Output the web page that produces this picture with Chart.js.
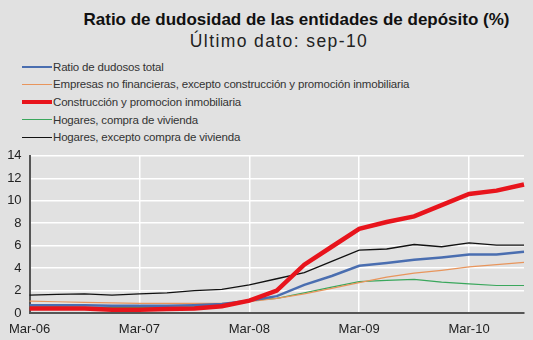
<!DOCTYPE html>
<html>
<head>
<meta charset="utf-8">
<script src="https://cdn.jsdelivr.net/npm/chart.js@4"></script>
<style>
  html, body { margin: 0; padding: 0; }
  body { width: 533px; height: 340px; background: #e1e1e1; position: relative; overflow: hidden;
         font-family: "Liberation Sans", Arial, sans-serif; color: #111; }
  #title { position: absolute; left: 0; width: 593px; top: 10px; text-align: center;
           font-size: 17px; font-weight: bold; }
  #subtitle { position: absolute; left: 0; width: 558px; top: 31px; text-align: center;
              font-size: 17.5px; letter-spacing: 1.4px; color: #222; }
  #legend { position: absolute; left: 22px; top: 58px; }
  .item { height: 17.6px; display: flex; align-items: center; font-size: 11.5px; letter-spacing: -0.17px; color: #333; }
  .swatch { width: 30px; margin-right: 1px; }
  #wrap { position: absolute; left: 0; top: 140px; width: 533px; height: 200px; }
</style>
</head>
<body>
<div id="title">Ratio de dudosidad de las entidades de depósito (%)</div>
<div id="subtitle">Último dato: sep-10</div>
<div id="legend"></div>
<div id="wrap"><canvas id="chart"></canvas></div>
<script>
// Trimestres, mar-06 a sep-10
const quarters = ['Mar-06','Jun-06','Sep-06','Dec-06','Mar-07','Jun-07','Sep-07','Dec-07',
                  'Mar-08','Jun-08','Sep-08','Dec-08','Mar-09','Jun-09','Sep-09','Dec-09',
                  'Mar-10','Jun-10','Sep-10'];

const seriesNames = [
    'Ratio de dudosos total',
    'Empresas no financieras, excepto construcción y promoción inmobiliaria',
    'Construcción y promocion inmobiliaria',
    'Hogares, compra de vivienda',
    'Hogares, excepto compra de vivienda'
];

const totalValues    = [0.7, 0.7, 0.7, 0.65, 0.65, 0.65, 0.7, 0.8, 1.1, 1.5, 2.5, 3.3, 4.2, 4.45, 4.75, 4.95, 5.2, 5.2, 5.45];
const empresasValues = [1.05, 1.0, 0.95, 0.9, 0.85, 0.85, 0.85, 0.85, 1.0, 1.3, 1.7, 2.2, 2.7, 3.2, 3.55, 3.8, 4.1, 4.3, 4.5];
const construcValues = [0.4, 0.4, 0.4, 0.3, 0.3, 0.35, 0.4, 0.6, 1.1, 2.0, 4.3, 5.9, 7.5, 8.1, 8.6, 9.6, 10.6, 10.9, 11.45];
const viviendaValues = [0.55, 0.55, 0.5, 0.5, 0.5, 0.5, 0.55, 0.65, 1.1, 1.3, 1.8, 2.3, 2.8, 2.9, 3.0, 2.75, 2.6, 2.45, 2.45];
const consumoValues  = [1.6, 1.65, 1.7, 1.6, 1.7, 1.8, 2.0, 2.1, 2.5, 3.05, 3.6, 4.6, 5.6, 5.7, 6.1, 5.9, 6.25, 6.05, 6.05];

const yTicks = [0, 2, 4, 6, 8, 10, 12, 14];

const colors = ['#4a6eb0', '#e8955c', '#e8141c', '#3aa75c', '#111111'];
const widths = [2.5, 1.2, 4.5, 1.2, 1.3];
const values = [totalValues, empresasValues, construcValues, viviendaValues, consumoValues];

// Leyenda
const legend = document.getElementById('legend');
seriesNames.forEach((name, i) => {
    const row = document.createElement('div');
    row.className = 'item';
    row.innerHTML = '<span class="swatch" style="border-top:' + Math.max(widths[i], 1.5) + 'px solid ' + colors[i] + '"></span>' + name;
    legend.appendChild(row);
});

const ctx = document.getElementById('chart').getContext('2d');
new Chart(ctx, {
    type: 'line',
    data: {
        labels: quarters,
        datasets: seriesNames.map((name, i) => ({
            label: name,
            data: values[i],
            borderColor: colors[i],
            borderWidth: widths[i],
            pointRadius: 0,
            tension: 0,
            fill: false,
            order: i === 2 ? 0 : 1
        }))
    },
    options: {
        responsive: true,
        maintainAspectRatio: false,
        animation: false,
        layout: { padding: { top: 15, right: 6, left: 0, bottom: 0 } },
        plugins: { legend: { display: false }, tooltip: { enabled: false } },
        scales: {
            x: {
                offset: false,
                grid: {
                    drawTicks: false,
                    color: c => (c.index % 4 === 0 && c.index > 0) ? '#ffffff' : 'rgba(0,0,0,0)',
                    lineWidth: 1.5
                },
                border: { color: '#555', width: 2 },
                ticks: {
                    autoSkip: false,
                    maxRotation: 0,
                    padding: 9,
                    color: '#222',
                    font: { family: 'Liberation Sans', size: 13 },
                    callback: function(v, i) {
                        const l = quarters[i];
                        return l.startsWith('Mar') ? l : '';
                    }
                },
                afterFit: s => { s.height = 27; }
            },
            y: {
                min: 0,
                max: 14,
                afterBuildTicks: s => { s.ticks = yTicks.map(v => ({ value: v })); },
                grid: { drawTicks: false, color: '#ffffff', lineWidth: 1.5 },
                border: { color: '#555', width: 2 },
                ticks: {
                    padding: 8,
                    color: '#222',
                    font: { family: 'Liberation Sans', size: 13 }
                },
                afterFit: s => { s.width = 28; }
            }
        }
    }
});
</script>
</body>
</html>
